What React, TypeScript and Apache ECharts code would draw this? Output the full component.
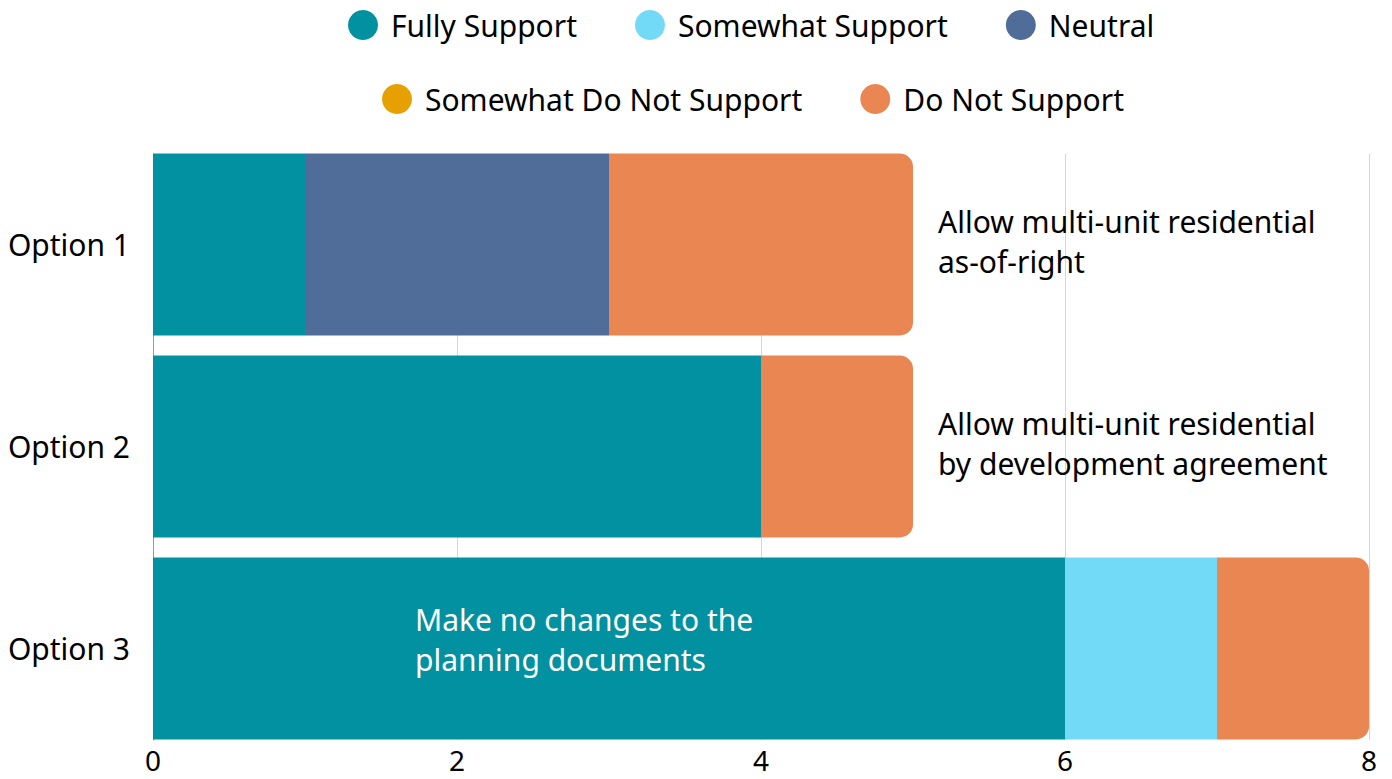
import React, { useEffect, useRef } from "react";
import * as echarts from "echarts";

const categories = ["Option 1", "Option 2", "Option 3"];
const seriesNames = [
  "Fully Support",
  "Somewhat Support",
  "Neutral",
  "Somewhat Do Not Support",
  "Do Not Support",
];
const fullySupport = [1, 4, 6];
const somewhatSupport = [0, 0, 1];
const neutral = [2, 0, 0];
const somewhatDoNotSupport = [0, 0, 0];
const doNotSupport = [2, 1, 1];
const seriesColors = ["#0191A0", "#72DAF6", "#506D99", "#E6A000", "#E98651"];
const xMin = 0;
const xMax = 8;
const xInterval = 2;
const annotations = [
  "Allow multi-unit residential\nas-of-right",
  "Allow multi-unit residential\nby development agreement",
  "Make no changes to the\nplanning documents",
];

const FONT = "'Noto Sans', sans-serif";
const FS = 30;

export default function App() {
  const ref = useRef<HTMLDivElement>(null);
  useEffect(() => {
    document.body.style.margin = "0";
    if (!ref.current) return;
    const chart = echarts.init(ref.current, undefined, { renderer: "svg" });
    const values = [fullySupport, somewhatSupport, neutral, somewhatDoNotSupport, doNotSupport];

    const rightLabel = (text: string) => ({
      show: true,
      position: "right",
      distance: 25,
      offset: [0, -3],
      formatter: text,
      color: "#000",
      fontSize: FS,
      lineHeight: 40,
      fontFamily: FONT,
      align: "left",
    });

    const series = seriesNames.map((name, si) => {
      const data = values[si].map((v, ci) => {
        const item: any = { value: v };
        if (si === 4 && ci < 2) {
          item.label = rightLabel(annotations[ci]);
        }
        if (si === 0 && ci === 2) {
          item.label = {
            show: true,
            position: [262, 82],
            verticalAlign: "middle",
            align: "left",
            formatter: annotations[2],
            color: "#fff",
            fontSize: FS,
            lineHeight: 40,
            fontFamily: FONT,
          };
        }
        return item;
      });
      return {
        name,
        type: "bar",
        stack: "total",
        xAxisIndex: 1,
        yAxisIndex: 1,
        barCategoryGap: "10%",
        itemStyle: {
          color: seriesColors[si],
          borderRadius: si === 4 ? [0, 13, 13, 0] : 0,
        },
        label: { show: false },
        emphasis: { disabled: true },
        data,
      };
    });

    const legendCommon = {
      icon: "circle",
      itemWidth: 30,
      itemHeight: 30,
      itemGap: 58,
      padding: 0,
      selectedMode: false,
      textStyle: {
        fontSize: FS,
        color: "#000",
        fontFamily: FONT,
        padding: [0, 0, 0, 8],
      },
    };

    chart.setOption({
      animation: false,
      textStyle: { fontFamily: FONT },
      legend: [
        { ...legendCommon, left: 348, top: 10, data: seriesNames.slice(0, 3) },
        { ...legendCommon, left: 382, top: 84, data: seriesNames.slice(3) },
      ],
      grid: [
        { left: 153, right: 23, top: 154, bottom: 39 },
        { left: 153, right: 23, top: 143.5, bottom: 29.5 },
      ],
      xAxis: [
        {
          gridIndex: 0,
          type: "value",
          min: xMin,
          max: xMax,
          interval: xInterval,
          axisLine: { show: false },
          axisTick: { show: false },
          splitLine: { show: true, lineStyle: { color: "#d6d6d6", width: 1 } },
          axisLabel: {
            fontSize: 28,
            lineHeight: 28,
            color: "#000",
            margin: 6,
            fontFamily: FONT,
          },
        },
        {
          gridIndex: 1,
          type: "value",
          min: xMin,
          max: xMax,
          show: false,
        },
      ],
      yAxis: [
        {
          gridIndex: 0,
          type: "value",
          axisLine: { show: true, lineStyle: { color: "#9a9a9a", width: 1 } },
          axisTick: { show: false },
          axisLabel: { show: false },
          splitLine: { show: false },
        },
        {
          gridIndex: 1,
          type: "category",
          inverse: true,
          data: categories,
          axisLine: { show: false },
          axisTick: { show: false },
          splitLine: { show: false },
          axisLabel: {
            fontSize: FS,
            color: "#000",
            margin: 23,
            fontFamily: FONT,
            padding: [0, 0, 6, 0],
          },
        },
      ],
      series,
    });
    return () => chart.dispose();
  }, []);
  return <div ref={ref} style={{ width: 1392, height: 779 }} />;
}
